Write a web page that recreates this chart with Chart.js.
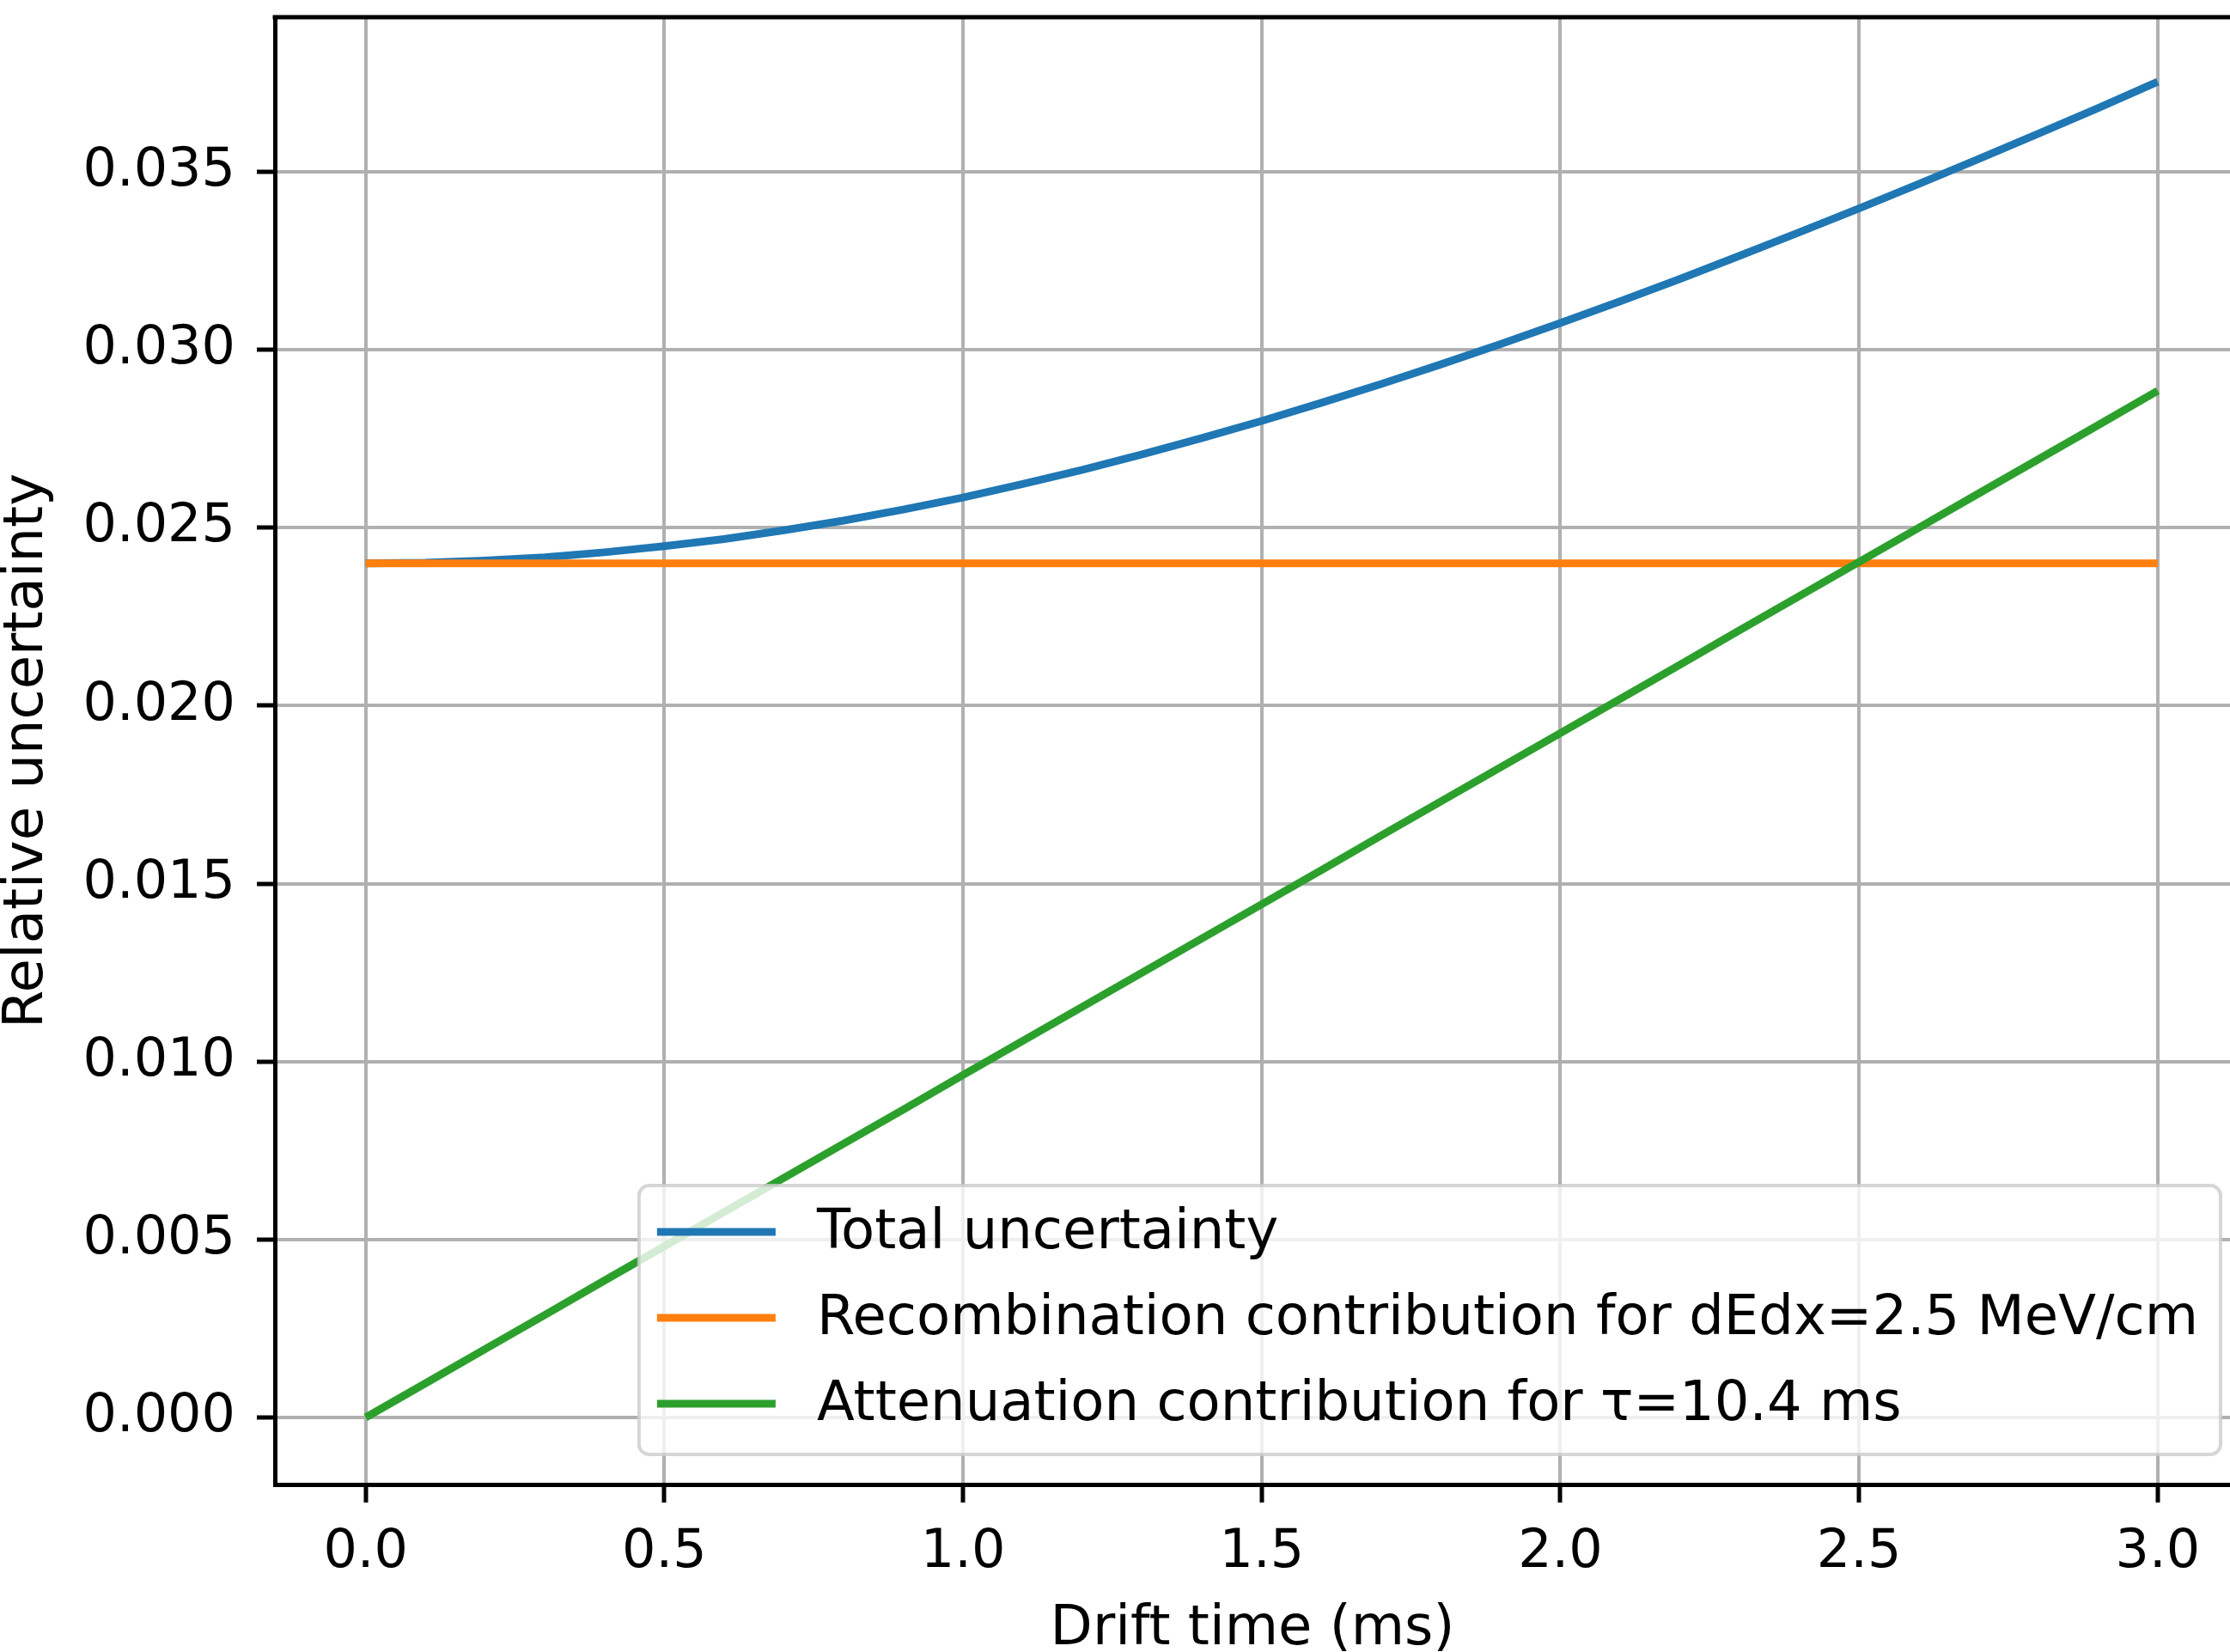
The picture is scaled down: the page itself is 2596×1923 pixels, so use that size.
<!DOCTYPE html>
<html>
<head>
<meta charset="utf-8">
<script src="https://cdn.jsdelivr.net/npm/chart.js@4"></script>
<style>
  html, body { margin: 0; padding: 0; background: #fff; }
  canvas { display: block; }
</style>
</head>
<body>
<canvas id="grafico" width="2596" height="1923"></canvas>
<script>
// drift time (ms)
const driftTime = [0.0, 0.1, 0.2, 0.3, 0.4, 0.5, 0.6, 0.7, 0.8, 0.9, 1.0,
  1.1, 1.2, 1.3, 1.4, 1.5, 1.6, 1.7, 1.8, 1.9, 2.0,
  2.1, 2.2, 2.3, 2.4, 2.5, 2.6, 2.7, 2.8, 2.9, 3.0];

// total uncertainty
const totale = [0.02400, 0.02402, 0.02408, 0.02417, 0.02431, 0.02448, 0.02468, 0.02493, 0.02520, 0.02551, 0.02585,
  0.02623, 0.02663, 0.02706, 0.02752, 0.02800, 0.02851, 0.02904, 0.02959, 0.03016, 0.03075,
  0.03136, 0.03199, 0.03264, 0.03330, 0.03397, 0.03466, 0.03536, 0.03607, 0.03679, 0.03753];

// recombination contribution
const ricombinazione = [0.024, 0.024, 0.024, 0.024, 0.024, 0.024, 0.024, 0.024, 0.024, 0.024, 0.024,
  0.024, 0.024, 0.024, 0.024, 0.024, 0.024, 0.024, 0.024, 0.024, 0.024,
  0.024, 0.024, 0.024, 0.024, 0.024, 0.024, 0.024, 0.024, 0.024, 0.024];

// attenuation contribution
const attenuazione = [0.0, 0.00096, 0.00192, 0.00288, 0.00385, 0.00481, 0.00577, 0.00673, 0.00769, 0.00865, 0.00962,
  0.01058, 0.01154, 0.01250, 0.01346, 0.01442, 0.01538, 0.01635, 0.01731, 0.01827, 0.01923,
  0.02019, 0.02115, 0.02212, 0.02308, 0.02404, 0.02500, 0.02596, 0.02692, 0.02788, 0.02885];

const etichette = [
  'Total uncertainty',
  'Recombination contribution for dEdx=2.5 MeV/cm',
  'Attenuation contribution for \u03c4=10.4 ms'
];

const tickX = [0.0, 0.5, 1.0, 1.5, 2.0, 2.5, 3.0];
const tickY = [0.000, 0.005, 0.010, 0.015, 0.020, 0.025, 0.030, 0.035];

const colori = ['#1f77b4', '#ff7f0e', '#2ca02c'];

function punti(valori) {
  return driftTime.map((t, i) => ({ x: t, y: valori[i] }));
}

Chart.defaults.font.family = 'DejaVu Sans';
Chart.defaults.font.size = 62;
Chart.defaults.color = '#000';

// sfondo bianco + bordo superiore
const cornice = {
  id: 'cornice',
  beforeDraw(chart) {
    const c = chart.ctx;
    c.save();
    c.fillStyle = '#fff';
    c.fillRect(0, 0, chart.width, chart.height);
    c.restore();
  },
  afterDatasetsDraw(chart) {
    const c = chart.ctx;
    const a = chart.chartArea;
    c.save();
    c.strokeStyle = '#000';
    c.lineWidth = 5;
    c.beginPath();
    c.moveTo(a.left - 2.5, a.top);
    c.lineTo(a.right, a.top);
    c.stroke();
    c.restore();
  }
};

// legenda in basso a destra, stile matplotlib
const legenda = {
  id: 'legenda',
  afterDraw(chart) {
    const c = chart.ctx;
    const a = chart.chartArea;
    c.save();
    c.font = '64px "DejaVu Sans"';
    let larghezzaTesto = 0;
    etichette.forEach(t => { larghezzaTesto = Math.max(larghezzaTesto, c.measureText(t).width); });
    const w = 21 + 138 + 48 + larghezzaTesto + 26;
    const h = 313;
    const x = a.right - 11 - w;
    const y = a.bottom - 35 - h;
    c.fillStyle = 'rgba(255,255,255,0.8)';
    c.strokeStyle = 'rgba(204,204,204,0.8)';
    c.lineWidth = 4;
    c.beginPath();
    c.roundRect(x, y, w, h, 12);
    c.fill();
    c.stroke();
    c.textBaseline = 'middle';
    c.textAlign = 'left';
    chart.data.datasets.forEach((ds, i) => {
      const yy = y + 54 + i * 100;
      c.strokeStyle = ds.borderColor;
      c.lineWidth = 9;
      c.beginPath();
      c.moveTo(x + 21, yy);
      c.lineTo(x + 159, yy);
      c.stroke();
      c.fillStyle = '#000';
      c.fillText(ds.label, x + 207, yy + 2);
    });
    c.restore();
  }
};

const ctx = document.getElementById('grafico').getContext('2d');
const grafico = new Chart(ctx, {
  type: 'line',
  data: {
    datasets: [
      { label: etichette[0], data: punti(totale), borderColor: colori[0], order: 2 },
      { label: etichette[1], data: punti(ricombinazione), borderColor: colori[1], order: 1 },
      { label: etichette[2], data: punti(attenuazione), borderColor: colori[2], order: 0 }
    ]
  },
  options: {
    responsive: false,
    animation: false,
    devicePixelRatio: 1,
    layout: { padding: { top: 20, left: 0, right: 0, bottom: 0 } },
    elements: {
      point: { radius: 0 },
      line: { borderWidth: 9, tension: 0, fill: false, borderCapStyle: 'butt' }
    },
    plugins: {
      legend: { display: false },
      tooltip: { enabled: false }
    },
    scales: {
      x: {
        type: 'linear',
        min: -0.152,
        max: 3.121,
        afterBuildTicks: s => { s.ticks = tickX.map(v => ({ value: v })); },
        afterFit: s => { s.height = 195; s.paddingLeft = 0; s.paddingRight = 0; },
        ticks: {
          autoSkip: false,
          maxRotation: 0,
          padding: 22,
          callback: v => Number(v).toFixed(1)
        },
        grid: { color: '#b0b0b0', lineWidth: 4, tickLength: 21, tickColor: '#000', tickWidth: 5 },
        border: { display: true, color: '#000', width: 5 },
        title: {
          display: true,
          text: 'Drift time (ms)',
          font: { size: 64, lineHeight: 1.0 },
          padding: { top: 0, bottom: -6 }
        }
      },
      y: {
        type: 'linear',
        min: -0.001883,
        max: 0.039345,
        afterBuildTicks: s => { s.ticks = tickY.map(v => ({ value: v })); },
        afterFit: s => { s.width = 320; s.paddingTop = 0; s.paddingBottom = 0; },
        ticks: {
          autoSkip: false,
          padding: 25,
          callback: v => Number(v).toFixed(3)
        },
        grid: { color: '#b0b0b0', lineWidth: 4, tickLength: 21, tickColor: '#000', tickWidth: 5 },
        border: { display: true, color: '#000', width: 5 },
        title: {
          display: true,
          text: 'Relative uncertainty',
          font: { size: 64, lineHeight: 1.0 },
          padding: { top: 0, bottom: 0 }
        }
      }
    }
  },
  plugins: [cornice, legenda]
});
</script>
</body>
</html>
